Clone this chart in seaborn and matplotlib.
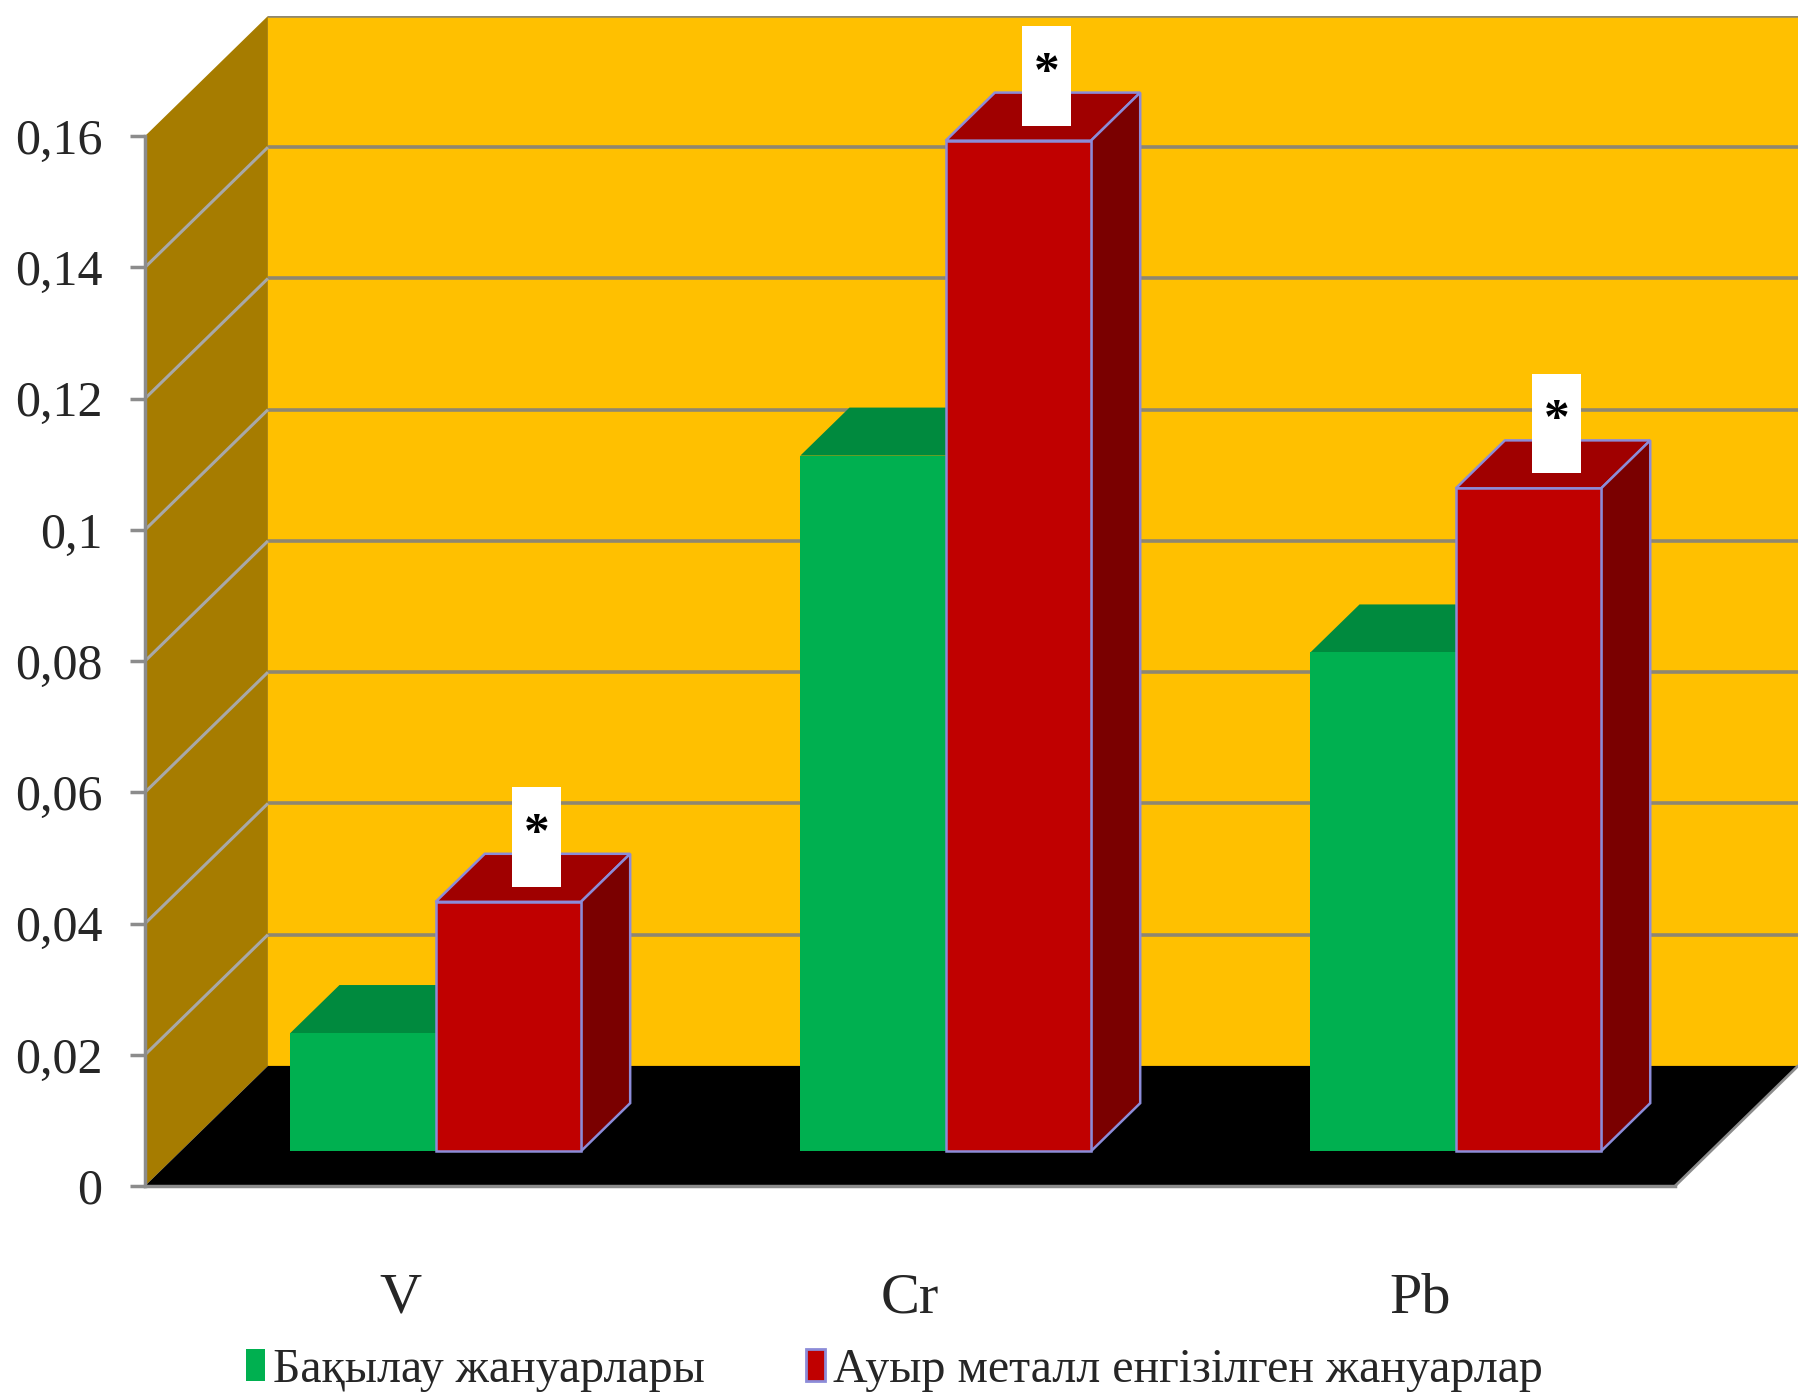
import matplotlib
matplotlib.use("Agg")
import matplotlib.pyplot as plt
from matplotlib.patches import Polygon, Rectangle
import pandas as pd
import seaborn as sns

# ---- data -------------------------------------------------------------
categories = ["V", "Cr", "Pb"]
control_values = [0.018, 0.106, 0.076]
exposed_values = [0.038, 0.154, 0.101]
series_names = ["Бақылау жануарлары", "Ауыр металл енгізілген жануарлар"]
significance = ["*", "*", "*"]
y_ticks = [0, 0.02, 0.04, 0.06, 0.08, 0.10, 0.12, 0.14, 0.16]
y_tick_labels = ["0", "0,02", "0,04", "0,06", "0,08", "0,1", "0,12", "0,14", "0,16"]

df = pd.DataFrame({
    "element": categories * 2,
    "value": control_values + exposed_values,
    "group": [series_names[0]] * len(categories) + [series_names[1]] * len(categories),
})

# ---- style ------------------------------------------------------------
FRONT = ["#00B050", "#C00000"]
TOP = ["#008A3E", "#A00000"]
SIDE = ["#006B2F", "#7A0000"]
EDGE = ["none", "#8C8CD8"]
BACK_WALL = "#FFC000"
SIDE_WALL = "#A67C00"
GRID = "#8F8770"
AXIS_GRAY = "#8C8C8C"

sns.set_style("white")
plt.rcParams["font.family"] = ["Liberation Serif", "DejaVu Serif"]

W, H = 1798, 1398
fig = plt.figure(figsize=(W / 100, H / 100), dpi=100)
ax = fig.add_axes([145 / W, (H - 1186) / H, (W - 145) / W, (1186 - 16) / H])

# oblique box geometry
Y_MAX = 0.16
DX = 0.241      # depth of the chart box along x (category units)
DY = 0.0183     # depth of the chart box along y (value units)
F_FRONT, F_BACK = 0.29, 0.69   # depth slice occupied by the bars
x0, x1 = -0.5, len(categories) - 0.5

# ---- bars (front faces) ------------------------------------------------
sns.barplot(data=df, x="element", y="value", hue="group",
            order=categories, hue_order=series_names,
            palette=FRONT, width=0.57, saturation=1, errorbar=None,
            ax=ax)

bdx = (F_BACK - F_FRONT) * DX
bdy = (F_BACK - F_FRONT) * DY
BOX_W, BOX_H = 0.096, 0.0152

for j, cont in enumerate(ax.containers):
    for k, rect in enumerate(cont):
        rect.set_x(rect.get_x() + F_FRONT * DX)
        rect.set_y(F_FRONT * DY)
        rect.set_zorder(3 + j + 0.5)
        if EDGE[j] == "none":
            rect.set_linewidth(0)
        else:
            rect.set_edgecolor(EDGE[j])
            rect.set_linewidth(1.8)
        bx, by = rect.get_x(), rect.get_y()
        w, h = rect.get_width(), rect.get_height()
        top = by + h
        top_face = Polygon([(bx, top), (bx + w, top), (bx + w + bdx, top + bdy), (bx + bdx, top + bdy)],
                           closed=True, facecolor=TOP[j],
                           edgecolor=EDGE[j] if EDGE[j] != "none" else TOP[j],
                           linewidth=1.8 if EDGE[j] != "none" else 0, zorder=3 + j)
        side_face = Polygon([(bx + w, by), (bx + w + bdx, by + bdy), (bx + w + bdx, top + bdy), (bx + w, top)],
                            closed=True, facecolor=SIDE[j],
                            edgecolor=EDGE[j] if EDGE[j] != "none" else SIDE[j],
                            linewidth=1.8 if EDGE[j] != "none" else 0, zorder=3 + j)
        ax.add_patch(top_face)
        ax.add_patch(side_face)
        if j == 1:
            cx = bx + w / 2 + bdx * 0.58
            b0 = top + 0.0023
            ax.add_patch(Rectangle((cx - BOX_W / 2, b0), BOX_W, BOX_H,
                                   facecolor="white", edgecolor="none", zorder=6))
            ax.text(cx, b0 + BOX_H * 0.52, significance[k], ha="center", va="center",
                    fontsize=37, fontweight="bold", color="black", zorder=7)

# ---- walls, floor and gridlines ---------------------------------------
ax.add_patch(Polygon([(x0, 0), (x0, Y_MAX), (x0 + DX, Y_MAX + DY), (x0 + DX, DY)],
                     closed=True, facecolor=SIDE_WALL, edgecolor="none", zorder=0.5))
ax.add_patch(Polygon([(x0 + DX, DY), (x1 + DX, DY), (x1 + DX, Y_MAX + DY), (x0 + DX, Y_MAX + DY)],
                     closed=True, facecolor=BACK_WALL, edgecolor="none", zorder=0.5))
ax.add_patch(Polygon([(x0, 0), (x1, 0), (x1 + DX, DY), (x0 + DX, DY)],
                     closed=True, facecolor="black", edgecolor="none", zorder=0.6))
for t in y_ticks[1:]:
    ax.plot([x0 + DX, x1 + DX], [t + DY, t + DY], color=GRID, lw=2.6,
            solid_capstyle="butt", zorder=1)
    if t < Y_MAX:
        ax.plot([x0, x0 + DX], [t, t + DY], color="#A8A8A8", lw=2.2,
                solid_capstyle="butt", zorder=1)
ax.plot([x1, x1 + DX], [0, DY], color=AXIS_GRAY, lw=2.0, zorder=1)

# ---- axes -----------------------------------------------------------
ax.set_xlim(x0, x1 + DX)
ax.set_ylim(0, Y_MAX + DY)
ax.set_xlabel("")
ax.set_ylabel("")
ax.set_yticks(y_ticks, y_tick_labels)
ax.set_xticks(range(len(categories)), categories)
ax.set_xticks([x0 + i for i in range(len(categories) + 1)], minor=True)
ax.tick_params(axis="x", which="major", length=0, pad=62, labelsize=42)
ax.tick_params(axis="x", which="minor", length=12.2, width=2.5, color=AXIS_GRAY, direction="out")
ax.tick_params(axis="y", which="major", length=10.8, width=2.5, color=AXIS_GRAY,
               direction="out", pad=20, labelsize=36, left=True)
for s in ("top", "right"):
    ax.spines[s].set_visible(False)
ax.spines["left"].set_bounds(0, Y_MAX)
ax.spines["bottom"].set_bounds(x0, x1)
for s in ("left", "bottom"):
    ax.spines[s].set_color(AXIS_GRAY)
    ax.spines[s].set_linewidth(2.5)
ax.set_facecolor("white")

# ---- legend ---------------------------------------------------------
sns.move_legend(ax, "center", bbox_to_anchor=(0.4535, -0.1575), ncol=2, frameon=False,
                title=None, fontsize=34.5, handlelength=0.4, handleheight=0.65,
                handletextpad=0.17, columnspacing=2.1)
leg = ax.get_legend()
for j, hnd in enumerate(leg.legend_handles):
    if EDGE[j] == "none":
        hnd.set_linewidth(0)
    else:
        hnd.set_edgecolor(EDGE[j])
        hnd.set_linewidth(2)

fig.savefig("out.png", dpi=100)
